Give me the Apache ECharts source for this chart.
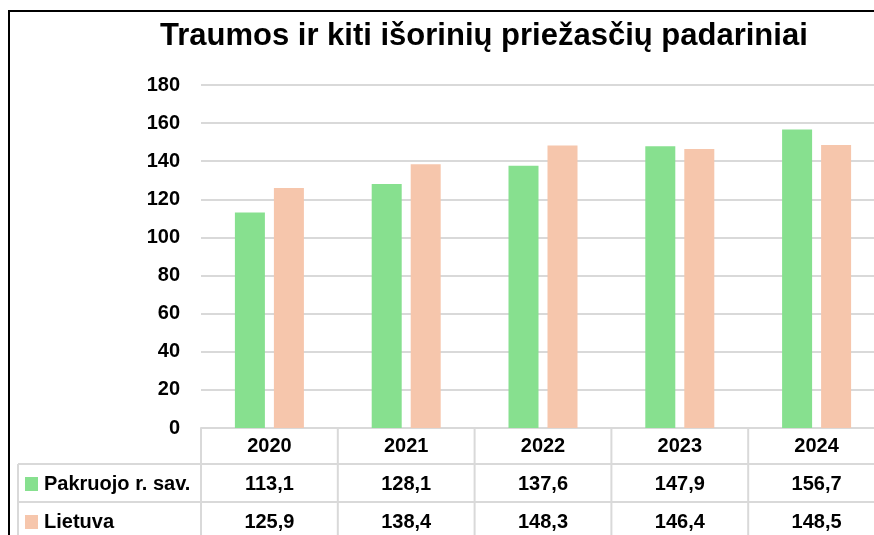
<!DOCTYPE html>
<html>
<head>
<meta charset="utf-8">
<script src="https://cdn.jsdelivr.net/npm/echarts@6/dist/echarts.min.js"></script>
<style>
  html, body { margin: 0; padding: 0; background: #fff; overflow: hidden; }
  /* the drawing surface is a little wider than the window; its right edge is cut off */
  #chart { width: 885px; height: 535px; }
</style>
</head>
<body>
<div id="chart"></div>
<script>
// Chart data
const years = ['2020', '2021', '2022', '2023', '2024'];
const seriesNames = ['Pakruojo r. sav.', 'Lietuva'];
const pakruojo = [113.1, 128.1, 137.6, 147.9, 156.7];
const lietuva = [125.9, 138.4, 148.3, 146.4, 148.5];
const yMin = 0, yMax = 180, yStep = 20;

const titleText = 'Traumos ir kiti išorinių priežasčių padariniai';
const colors = ['#87E08F', '#F6C6AC'];
const FONT = '"Liberation Sans", Arial, sans-serif';
const lineGrey = '#D9D9D9';

const fmt = v => v.toFixed(1).replace('.', ',');

const chart = echarts.init(document.getElementById('chart'), null, { renderer: 'canvas' });

const option = {
  animation: false,
  backgroundColor: '#fff',
  textStyle: { fontFamily: FONT },
  title: {
    text: titleText,
    left: 155,
    top: 16,
    textStyle: { fontFamily: FONT, fontWeight: 'bold', fontSize: 31, color: '#000' }
  },
  grid: { left: 201, top: 85, right: 0, bottom: 107, containLabel: false },
  xAxis: {
    type: 'category',
    data: years,
    axisLine: { show: true, lineStyle: { color: lineGrey, width: 2 } },
    axisTick: { show: false },
    axisLabel: {
      margin: 8,
      fontFamily: FONT, fontWeight: 'bold', fontSize: 20, lineHeight: 20, color: '#000'
    },
    splitLine: { show: false }
  },
  yAxis: {
    type: 'value',
    min: yMin, max: yMax, interval: yStep,
    axisLine: { show: false },
    axisTick: { show: false },
    axisLabel: { margin: 21, fontFamily: FONT, fontWeight: 'bold', fontSize: 20, color: '#000' },
    splitLine: { lineStyle: { color: lineGrey, width: 2 } }
  },
  series: [
    { name: seriesNames[0], type: 'bar', data: pakruojo, barWidth: 30, barGap: '30%',
      itemStyle: { color: colors[0] } },
    { name: seriesNames[1], type: 'bar', data: lietuva, barWidth: 30, barGap: '30%',
      itemStyle: { color: colors[1] } }
  ]
};

chart.setOption(option);

// Data table under the plot: rows for each series, columns aligned to the category axis
function buildTable() {
  const rows = [pakruojo, lietuva];
  const p0 = chart.convertToPixel({ gridIndex: 0 }, [0, yMin]);
  const p1 = chart.convertToPixel({ gridIndex: 0 }, [1, yMin]);
  const band = p1[0] - p0[0];
  const baseY = p0[1];
  const headerH = 36, rowH = 38;
  const labelLeft = 18;
  const gridLeft = p0[0] - band / 2;
  const gridRight = gridLeft + band * years.length;
  const bottom = baseY + headerH + rowH * rows.length + 10;
  const els = [];
  const line = (x1, y1, x2, y2) => els.push({
    type: 'line', silent: true,
    shape: { x1, y1, x2, y2 },
    style: { stroke: lineGrey, lineWidth: 2 }
  });

  // vertical column separators
  for (let i = 0; i <= years.length; i++) {
    const x = gridLeft + band * i;
    line(x, baseY, x, bottom);
  }
  line(labelLeft, baseY + headerH, labelLeft, bottom);
  // horizontal row separators
  for (let r = 0; r < rows.length; r++) {
    const y = baseY + headerH + rowH * r;
    line(labelLeft, y, gridRight, y);
  }

  rows.forEach((vals, r) => {
    const cy = baseY + headerH + rowH * r + rowH / 2 + 1;
    // legend key + series name
    els.push({
      type: 'rect', silent: true,
      shape: { x: 25, y: cy - 7, width: 13, height: 14 },
      style: { fill: colors[r] }
    });
    els.push({
      type: 'text', silent: true,
      x: 44, y: cy,
      style: {
        text: seriesNames[r], fill: '#000',
        font: 'bold 20px ' + FONT, align: 'left', verticalAlign: 'middle'
      }
    });
    vals.forEach((v, i) => {
      const cx = chart.convertToPixel({ gridIndex: 0 }, [i, yMin])[0];
      els.push({
        type: 'text', silent: true,
        x: cx, y: cy,
        style: {
          text: fmt(v), fill: '#000',
          font: 'bold 20px ' + FONT, align: 'center', verticalAlign: 'middle'
        }
      });
    });
  });

  // outer chart frame
  els.push({
    type: 'polyline', silent: true,
    shape: { points: [[9, 540], [9, 11], [890, 11]] },
    style: { stroke: '#000', lineWidth: 2, fill: null }
  });

  chart.setOption({ graphic: { elements: els } });
}

buildTable();
</script>
</body>
</html>
